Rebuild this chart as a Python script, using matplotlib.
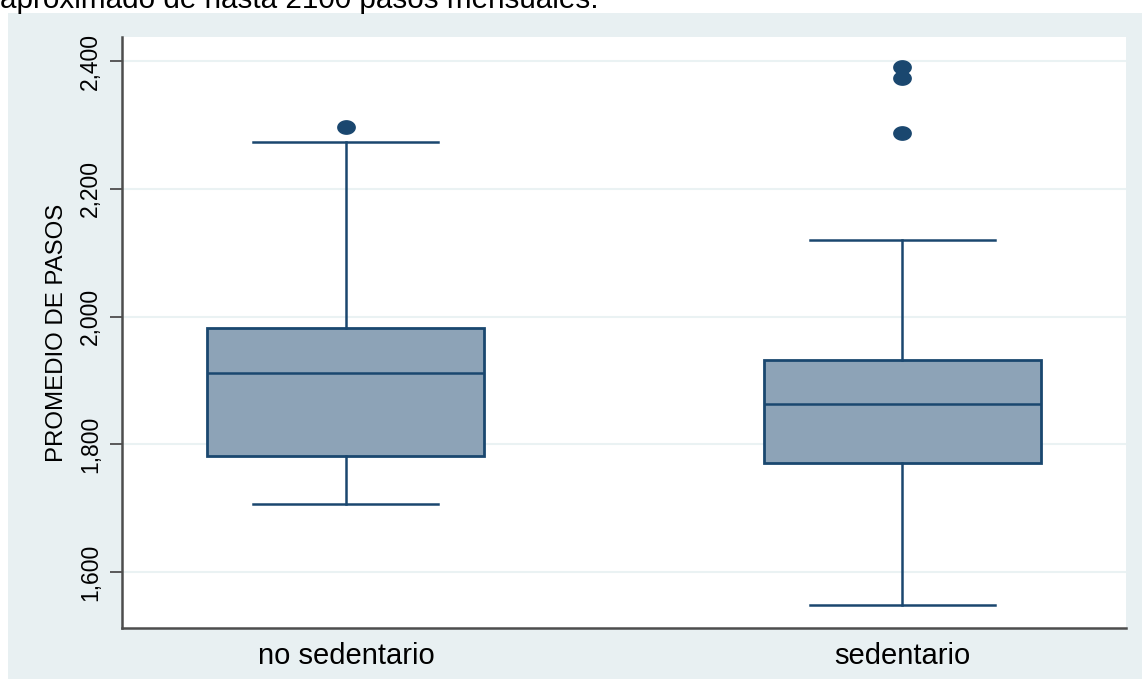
import matplotlib.pyplot as plt
from matplotlib.patches import Rectangle
from matplotlib.path import Path
from matplotlib.ticker import FuncFormatter
import numpy as np

plt.rcParams['font.family'] = ['Liberation Sans', 'DejaVu Sans']

# summary stats per group (steps per month)
groups = ['no sedentario', 'sedentario']
q1 = [1782, 1771]
medians = [1912, 1863]
q3 = [1982, 1932]
whisker_low = [1707, 1549]
whisker_high = [2273, 2120]
outliers = [[2296], [2288, 2374, 2391]]
yticks = [1600, 1800, 2000, 2200, 2400]

navy = '#1A476F'
fill = '#8DA3B7'
panel = '#E8F0F2'

fig = plt.figure(figsize=(11.42, 6.79), dpi=100)
fig.patch.set_facecolor('white')
fig.patches.append(Rectangle((8 / 1142, 0), 1, 1 - 13 / 679, transform=fig.transFigure,
                             facecolor=panel, edgecolor='none', zorder=-10))
fig.text(0.0, 1 - 8 / 679, 'aproximado de hasta 2100 pasos mensuales.',
         fontsize=21.3, color='black', va='baseline', ha='left')

ax = fig.add_axes([122 / 1142, 1 - 628 / 679, 1004 / 1142, 591 / 679])
ax.set_facecolor('white')

stats = []
for i, name in enumerate(groups):
    stats.append(dict(label=name, q1=q1[i], med=medians[i], q3=q3[i],
                      whislo=whisker_low[i], whishi=whisker_high[i], fliers=outliers[i]))

# slightly wide ellipse for outlier dots
t = np.linspace(0, 2 * np.pi, 40)
ell = Path(np.column_stack([1.3 * np.cos(t), np.sin(t)]), closed=True)

ax.bxp(stats, positions=[1, 2], widths=0.498, capwidths=0.333, patch_artist=True,
       boxprops=dict(facecolor=fill, edgecolor=navy, linewidth=2),
       medianprops=dict(color=navy, linewidth=1.8),
       whiskerprops=dict(color=navy, linewidth=1.8),
       capprops=dict(color=navy, linewidth=1.8),
       flierprops=dict(marker=ell, markersize=12.5, markerfacecolor=navy,
                       markeredgecolor=navy, linestyle='none'))

ax.set_xlim(0.5975, 2.4025)
ax.set_ylim(1512.3, 2437.6)
ax.set_yticks(yticks)
ax.yaxis.set_major_formatter(FuncFormatter(lambda v, p: f'{int(v):,}'))
ax.grid(axis='y', color='#EAF2F3', linewidth=1.5)
ax.set_axisbelow(True)

for s in ['top', 'right']:
    ax.spines[s].set_visible(False)
for s in ['left', 'bottom']:
    ax.spines[s].set_color('#4D4D4D')
    ax.spines[s].set_linewidth(1.8)

ax.tick_params(axis='y', length=8.4, width=1.3, color='#4D4D4D', pad=6,
               labelsize=16.5, labelrotation=90)
for lbl in ax.get_yticklabels():
    lbl.set_va('center')
ax.tick_params(axis='x', length=0, labelsize=21, pad=10)
ax.set_ylabel('PROMEDIO DE PASOS', fontsize=17.3, labelpad=8)

fig.savefig('out.png', dpi=100)
